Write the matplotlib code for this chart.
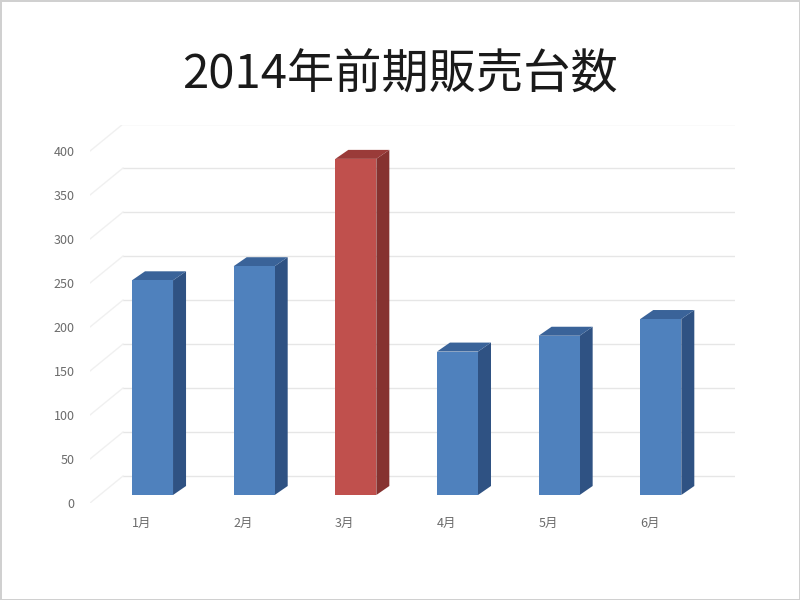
import numpy as np
import matplotlib
matplotlib.use("Agg")
import matplotlib.pyplot as plt
from matplotlib.patches import Polygon
from matplotlib.transforms import ScaledTranslation

plt.rcParams['font.family'] = ['Noto Sans CJK JP', 'DejaVu Sans']

# data
months = ["1月", "2月", "3月", "4月", "5月", "6月"]
sales = [244, 260, 382, 163, 181, 200]
highlight = "3月"
title = "2014年前期販売台数"
yticks = [0, 50, 100, 150, 200, 250, 300, 350, 400]

blue = ("#4f81bd", "#3a6399", "#2f5283")   # front, top, side
red = ("#c0504d", "#9a3b39", "#863230")

fig = plt.figure(figsize=(8, 6), dpi=100)
fig.patch.set_edgecolor("#d0d0d0")
fig.patch.set_linewidth(2)

# axes: y data = bar front plane, 0.88 px per unit
ax = fig.add_axes([90 / 800, 97 / 600, 645 / 800, 378 / 600])
ax.set_xlim(-0.615, 5.73)
ax.set_ylim(-9.09, 420.5)
for s in ax.spines.values():
    s.set_visible(False)
ax.patch.set_alpha(0)

def px(dx, dy):
    return ScaledTranslation(dx / 100, dy / 100, fig.dpi_scale_trans)

# back wall gridlines + side wall diagonals
xpx = 101.6   # px per category
ypx = 0.88    # px per unit
x_back = -0.615 + 33 / xpx
for v in yticks:
    ax.plot([x_back, 5.73], [v + 19 / ypx] * 2, color="#e6e6e6", lw=1, zorder=0)
    ax.plot([-0.615, x_back], [v - 8 / ypx, v + 19 / ypx], color="#f0f0f0", lw=1, zorder=0)

# bars with fake depth
x = np.arange(len(months))
w = 41 / xpx
dx = 13 / xpx
dy = 9 / ypx
for xi, m, v in zip(x, months, sales):
    front_c, top_c, side_c = red if m == highlight else blue
    l, r = xi - w / 2, xi + w / 2
    ax.add_patch(Polygon([(r, 0), (r + dx, dy), (r + dx, v + dy), (r, v)],
                         closed=True, fc=side_c, ec="none", zorder=2))
    ax.add_patch(Polygon([(l, v), (l + dx, v + dy), (r + dx, v + dy), (r, v)],
                         closed=True, fc=top_c, ec="none", zorder=2))
    ax.bar(xi, v, width=w, color=front_c, zorder=3)

ax.set_yticks(yticks)
ax.set_yticklabels([str(t) for t in yticks])
ax.set_xticks(x - 11 / xpx)
ax.set_xticklabels(months)
ax.tick_params(axis="both", length=0, labelsize=9, labelcolor="#6b6b6b")
ax.tick_params(axis="y", pad=11)
ax.tick_params(axis="x", pad=10)
for lab in ax.get_yticklabels():
    lab.set_transform(lab.get_transform() + px(0, -8))

fig.text(0.5, 1 - 75 / 600, title, ha="center", va="center", fontsize=34,
         color="#1a1a1a")

fig.savefig("out.png", dpi=100, edgecolor=fig.get_edgecolor())
